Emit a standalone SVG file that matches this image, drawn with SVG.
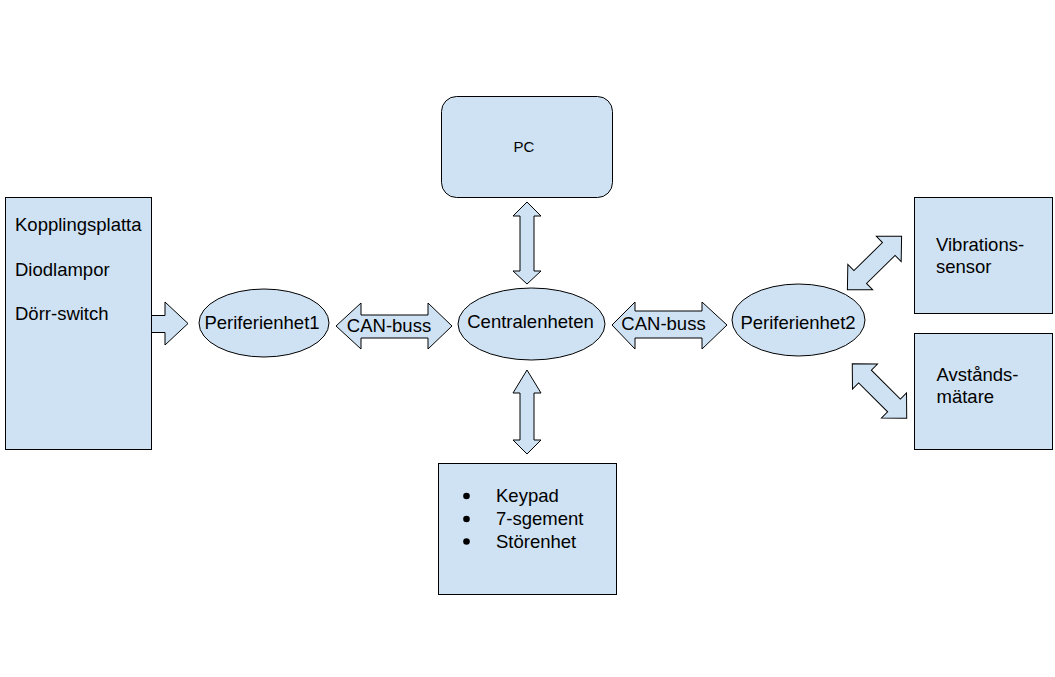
<svg xmlns="http://www.w3.org/2000/svg" width="1055" height="677" viewBox="0 0 1055 677">
<style>
.n{fill:#cfe2f3;stroke:#000;stroke-width:1}
.a{fill:#cfe2f3;stroke:#000;stroke-width:1;stroke-linejoin:miter}
text{font-family:"Liberation Sans",Arial,sans-serif;font-size:18.5px;fill:#000}
.c{text-anchor:middle}
</style>
<rect width="1055" height="677" fill="#fff"/>
<g id="kopplingsplatta">
<rect class="n" x="5.5" y="197.5" width="146" height="252"/>
<text x="15" y="231">Kopplingsplatta</text>
<text x="15" y="276">Diodlampor</text>
<text x="15" y="320">Dörr-switch</text>
</g>
<g id="pc">
<rect class="n" x="441.5" y="96.5" width="171" height="101" rx="15"/>
<text class="c" x="524" y="152" style="font-size:15px">PC</text>
</g>
<g id="periferienhet1">
<ellipse class="n" cx="264" cy="323" rx="65" ry="34"/>
<text class="c" x="262" y="328.5">Periferienhet1</text>
</g>
<g id="centralenheten">
<ellipse class="n" cx="531.5" cy="324" rx="73.5" ry="36"/>
<text class="c" x="530.5" y="328">Centralenheten</text>
</g>
<g id="periferienhet2">
<ellipse class="n" cx="798.5" cy="320" rx="66.5" ry="36"/>
<text class="c" x="798" y="329">Periferienhet2</text>
</g>
<g id="vibrationssensor">
<rect class="n" x="914.5" y="197.5" width="138" height="116"/>
<text x="936" y="251">Vibrations-</text>
<text x="936" y="272.5">sensor</text>
</g>
<g id="avstandsmatare">
<rect class="n" x="914.5" y="333.5" width="138" height="116"/>
<text x="936.5" y="381">Avstånds-</text>
<text x="936.5" y="403">mätare</text>
</g>
<g id="keypadbox">
<rect class="n" x="438.5" y="463.5" width="178" height="131"/>
<circle cx="466.5" cy="496" r="3.3" fill="#000"/>
<circle cx="466.5" cy="519" r="3.3" fill="#000"/>
<circle cx="466.5" cy="541.5" r="3.3" fill="#000"/>
<text x="496" y="502">Keypad</text>
<text x="496" y="525">7-sgement</text>
<text x="496" y="547.5">Störenhet</text>
</g>
<g id="connectors">
<polygon class="a" points="151.5,315.5 165,315.5 165,302 188,323.5 165,345 165,332.5 151.5,332.5"/>
<polygon class="a" points="336,326 361,303 361,315 428,315 428,303 452,326 428,349 428,338 361,338 361,349"/>
<text class="c" x="389" y="331.5">CAN-buss</text>
<polygon class="a" points="612,325 635,302 635,311 702,311 702,302 727,325 702,349 702,338 635,338 635,349"/>
<text class="c" x="663.5" y="329.5">CAN-buss</text>
<polygon class="a" points="527,202 541,216 534,216 534,271 541,271 527,284 513,271 520,271 520,216 513,216"/>
<polygon class="a" points="527,370 541,393 534,393 534,440 541,440 527,454 513,440 520,440 520,393 513,393"/>
<g transform="translate(874.5,263) rotate(-44.5)">
<polygon class="a" points="-38,0 -20,-17.7 -20,-9 20,-9 20,-17.7 38,0 20,17.7 20,9 -20,9 -20,17.7"/>
</g>
<g transform="translate(879.5,391) rotate(45)">
<polygon class="a" points="-38.5,0 -20.5,-17.7 -20.5,-9 20.5,-9 20.5,-17.7 38.5,0 20.5,17.7 20.5,9 -20.5,9 -20.5,17.7"/>
</g>
</g>
</svg>
